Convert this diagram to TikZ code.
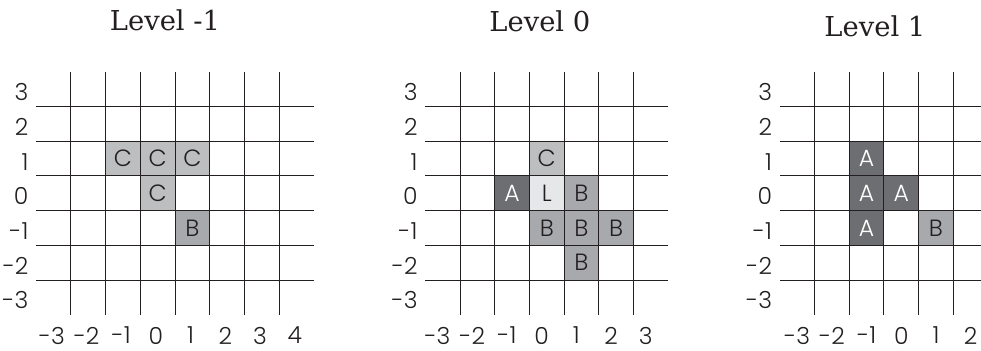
\documentclass[tikz,border=0pt]{standalone}
\usepackage{fontspec}
\setmainfont{DejaVu Serif}
\IfFontExistsTF{Poppins Light}{\newfontfamily\gridfont{Poppins Light}}{\newfontfamily\gridfont{Poppins}}
\definecolor{inkdark}{HTML}{231F20}
\definecolor{greyA}{HTML}{6D6E71}
\definecolor{greyB}{HTML}{A7A9AC}
\definecolor{greyC}{HTML}{BCBEC0}
\definecolor{greyL}{HTML}{E6E7E8}

\begin{document}
\begin{tikzpicture}[x=34.7pt,y=34.7pt,
  gridline/.style={line width=1pt,draw=inkdark},
  cell/.style={minimum size=34.7pt,inner sep=0pt,font=\gridfont\fontsize{23.5}{25}\selectfont,text=inkdark},
  cellA/.style={cell,fill=greyA,text=white},
  cellB/.style={cell,fill=greyB},
  cellC/.style={cell,fill=greyC},
  cellL/.style={cell,fill=greyL},
  title/.style={anchor=base,inner sep=0pt,font=\fontsize{27.4}{30}\selectfont,text=inkdark},
  axis/.style={inner sep=0pt,font=\gridfont\fontsize{23.5}{25}\selectfont,text=inkdark}]
\useasboundingbox (0,0) rectangle (28.271,10.115);
\clip (0,0) rectangle (28.271,10.115);

% level -1
\begin{scope}[shift={(4.545,4.545)}]
\node[title] (title1) at (0.21,4.68) {Level -1};
\node[cellC] (m1c1) at (-1,1) {C};
\node[cellC] (m1c2) at (0,1) {C};
\node[cellC] (m1c3) at (1,1) {C};
\node[cellC] (m1c4) at (0,0) {C};
\node[cellB] (m1b1) at (1,-1) {B};
\foreach \y in {-2.5,-1.5,...,2.5}
  \draw[gridline] (-3.5,\y) -- (4.5,\y);
\foreach \x in {-2.5,-1.5,...,3.5}
  \draw[gridline] (\x,-3.5) -- (\x,3.5);
\foreach \n in {-3,...,3}
  \node[axis,anchor=east,yshift=-3pt] (m1row\n) at (-3.72,\n) {\n};
\foreach \n in {-3,...,4}
  \node[axis] (m1col\n) at (\n-0.05,-4.1) {\n};
\end{scope}

% level 0
\begin{scope}[shift={(15.758,4.545)}]
\node[title] (title2) at (-0.2,4.66) {Level 0};
\node[cellC] (z0c1) at (0,1) {C};
\node[cellA] (z0a1) at (-1,0) {A};
\node[cellL] (z0l1) at (0,0) {L};
\node[cellB] (z0b1) at (1,0) {B};
\node[cellB] (z0b2) at (0,-1) {B};
\node[cellB] (z0b3) at (1,-1) {B};
\node[cellB] (z0b4) at (2,-1) {B};
\node[cellB] (z0b5) at (1,-2) {B};
\foreach \y in {-2.5,-1.5,...,2.5}
  \draw[gridline] (-3.5,\y) -- (3.5,\y);
\foreach \x in {-2.5,-1.5,...,2.5}
  \draw[gridline] (\x,-3.5) -- (\x,3.5);
\foreach \n in {-3,...,3}
  \node[axis,anchor=east,yshift=-3pt] (z0row\n) at (-3.72,\n) {\n};
\foreach \n in {-3,...,3}
  \node[axis] (z0col\n) at (\n-0.15,-4.1) {\n};
\end{scope}

% level 1
\begin{scope}[shift={(25.974,4.545)}]
\node[title] (title3) at (-0.76,4.52) {Level 1};
\node[cellA] (p1a1) at (-1,1) {A};
\node[cellA] (p1a2) at (-1,0) {A};
\node[cellA] (p1a3) at (0,0) {A};
\node[cellA] (p1a4) at (-1,-1) {A};
\node[cellB] (p1b1) at (1,-1) {B};
\foreach \y in {-2.5,-1.5,...,2.5}
  \draw[gridline] (-3.5,\y) -- (3.5,\y);
\foreach \x in {-2.5,-1.5,...,2.5}
  \draw[gridline] (\x,-3.5) -- (\x,3.5);
\foreach \n in {-3,...,3}
  \node[axis,anchor=east,yshift=-3pt] (p1row\n) at (-3.72,\n) {\n};
\foreach \n in {-3,...,2}
  \node[axis] (p1col\n) at (\n,-4.1) {\n};
\end{scope}
\end{tikzpicture}
\end{document}
